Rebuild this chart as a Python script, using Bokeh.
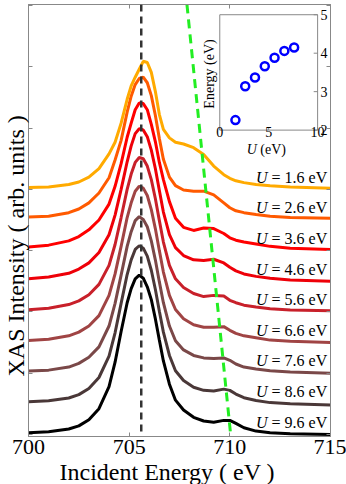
import numpy as np
from math import pi
from bokeh.plotting import figure
from bokeh.models import Range1d, FixedTicker, LinearAxis, Span, Title
from bokeh.embed import file_html
from bokeh.resources import INLINE
from bokeh.core.properties import value

# ---------------- data ----------------
energy = [700, 701, 702, 702.5, 703, 703.5, 704, 704.3, 704.6, 704.9, 705.1, 705.3, 705.5,
          705.7, 705.9, 706.1, 706.3, 706.5, 706.7, 707.0, 707.3, 707.7, 708.2, 708.7, 709.2,
          709.7, 710.0, 710.3, 710.7, 711.3, 712, 713, 715]

xas_u16 = [0.03, 0.04, 0.08, 0.12, 0.20, 0.34, 0.58, 0.77, 1.08, 1.47, 1.69, 1.83, 1.96,
           2.09, 2.07, 1.91, 1.60, 1.22, 0.98, 0.84, 0.77, 0.74, 0.68, 0.57, 0.38,
           0.24, 0.18, 0.14, 0.11, 0.08, 0.06, 0.04, 0.02]
xas_u26 = [0.05, 0.06, 0.12, 0.18, 0.28, 0.44, 0.69, 0.98, 1.30, 1.76, 2.02, 2.21, 2.31,
           2.33, 2.24, 2.03, 1.71, 1.33, 0.99, 0.70, 0.56, 0.49, 0.47, 0.47, 0.41,
           0.28, 0.20, 0.15, 0.12, 0.09, 0.06, 0.04, 0.03]
xas_u36 = [0.06, 0.09, 0.16, 0.23, 0.34, 0.50, 0.76, 1.05, 1.42, 1.85, 2.08, 2.30, 2.41,
           2.40, 2.30, 2.06, 1.78, 1.44, 1.16, 0.80, 0.53, 0.38, 0.33, 0.37, 0.36,
           0.28, 0.21, 0.17, 0.14, 0.11, 0.07, 0.04, 0.02]
xas_u46 = [0.04, 0.07, 0.13, 0.20, 0.30, 0.47, 0.76, 1.08, 1.50, 1.95, 2.21, 2.41, 2.49,
           2.47, 2.36, 2.14, 1.84, 1.48, 1.13, 0.76, 0.55, 0.42, 0.35, 0.34, 0.36,
           0.30, 0.23, 0.17, 0.12, 0.08, 0.05, 0.02, 0.00]
xas_u56 = [0.035, 0.06, 0.12, 0.18, 0.28, 0.45, 0.76, 1.10, 1.54, 2.00, 2.25, 2.44, 2.52,
           2.50, 2.38, 2.16, 1.85, 1.49, 1.14, 0.76, 0.54, 0.40, 0.30, 0.25, 0.27,
           0.26, 0.19, 0.15, 0.11, 0.08, 0.05, 0.03, 0.02]
xas_u66 = [0.035, 0.055, 0.11, 0.17, 0.27, 0.44, 0.77, 1.12, 1.57, 2.04, 2.28, 2.47, 2.55,
           2.52, 2.40, 2.17, 1.86, 1.50, 1.15, 0.77, 0.54, 0.39, 0.29, 0.25, 0.25,
           0.26, 0.20, 0.15, 0.11, 0.08, 0.04, 0.02, 0.00]
xas_u76 = [0.035, 0.05, 0.10, 0.16, 0.26, 0.43, 0.77, 1.14, 1.60, 2.07, 2.31, 2.49, 2.555,
           2.51, 2.39, 2.16, 1.85, 1.49, 1.15, 0.77, 0.53, 0.38, 0.29, 0.25, 0.24,
           0.25, 0.21, 0.15, 0.10, 0.07, 0.04, 0.02, 0.00]
xas_u86 = [0.033, 0.05, 0.095, 0.15, 0.25, 0.43, 0.78, 1.16, 1.64, 2.11, 2.35, 2.52, 2.58,
           2.54, 2.41, 2.18, 1.87, 1.51, 1.17, 0.79, 0.54, 0.38, 0.27, 0.22, 0.21,
           0.24, 0.22, 0.16, 0.10, 0.055, 0.02, 0.00, -0.017]
xas_u96 = [0.03, 0.045, 0.09, 0.14, 0.24, 0.42, 0.78, 1.18, 1.68, 2.15, 2.38, 2.54, 2.60,
           2.55, 2.41, 2.20, 1.89, 1.54, 1.20, 0.82, 0.56, 0.40, 0.28, 0.22, 0.20,
           0.23, 0.23, 0.18, 0.11, 0.055, 0.03, 0.01, 0.00]

curves = [xas_u16, xas_u26, xas_u36, xas_u46, xas_u56, xas_u66, xas_u76, xas_u86, xas_u96]
u_labels = ["1.6", "2.6", "3.6", "4.6", "5.6", "6.6", "7.6", "8.6", "9.6"]
offsets = [4.0, 3.5, 3.0, 2.5, 2.0, 1.5, 1.0, 0.5, 0.0]
colors = ["#FFAA00", "#FF5A00", "#FF0000", "#EE0008", "#C8202A", "#A04444", "#7A4848", "#4A3838", "#000000"]

main_peak_energy = 705.6
sat_line_energy = [707.87, 710.05]

x_ticks = [700, 705, 710, 715]
y_ticks = [0, 1, 2, 3, 4, 5, 6, 7]

inset_u = [1.6, 2.6, 3.6, 4.6, 5.6, 6.6, 7.6]
inset_energy = [2.26, 3.14, 3.37, 3.66, 3.88, 4.06, 4.15]
inset_x_ticks = [0, 5, 10]
inset_y_ticks = [2, 3, 4, 5]

SERIF = value("Liberation Serif")

# ---------------- main figure ----------------
y0, y1 = -0.033, 7.017
p = figure(width=346, height=484, x_range=Range1d(700, 715), y_range=Range1d(y0, y1),
           output_backend="svg", toolbar_location=None,
           min_border_left=0, min_border_right=16, min_border_top=4, min_border_bottom=0)
p.grid.visible = False
p.outline_line_color = "#888888"
p.background_fill_color = "white"
p.border_fill_color = "white"

def style_axis(ax, ticks, labels=True):
    ax.ticker = FixedTicker(ticks=ticks)
    ax.major_tick_in = 4
    ax.major_tick_out = 0
    ax.minor_tick_line_color = None
    ax.axis_line_color = "#888888"
    ax.major_tick_line_color = "#888888"
    if labels:
        ax.major_label_text_font = "Liberation Serif"
        ax.major_label_text_font_size = "22px"
        ax.major_label_text_color = "black"
        ax.major_label_standoff = 3
    else:
        ax.major_label_text_font_size = "0px"
        ax.major_label_text_color = None
        ax.major_label_standoff = 0

xax = p.xaxis[0]
yax = p.yaxis[0]
style_axis(xax, x_ticks, True)
style_axis(yax, y_ticks, False)
top_ax = LinearAxis()
style_axis(top_ax, x_ticks, False)
p.add_layout(top_ax, "above")
right_ax = LinearAxis()
style_axis(right_ax, y_ticks, False)
p.add_layout(right_ax, "right")

# axis titles (placed as titles so they can sit off-centre like the original)
p.add_layout(Title(text="Incident Energy ( eV )", align="left", offset=31, standoff=0,
                   text_font="Liberation Serif", text_font_size="24px",
                   text_font_style="normal", text_color="black"), "below")
p.add_layout(Title(text="XAS Intensity ( arb. units )", align="left", offset=60, standoff=0,
                   text_font="Liberation Serif", text_font_size="24px",
                   text_font_style="normal", text_color="black"), "left")

# curves (bottom first)
e = np.array(energy)
for vals, off, col in reversed(list(zip(curves, offsets, colors))):
    p.line(e, np.array(vals) + off, line_color=col, line_width=3)

# labels U = x eV
lab_x = 711.3
p.text(x=[lab_x] * 9, y=[o + 0.2 for o in offsets], text=["U"] * 9,
       text_font=SERIF, text_font_style="italic", text_font_size="16px",
       text_align="left", text_baseline="middle", text_color="black")
p.text(x=[lab_x] * 9, y=[o + 0.2 for o in offsets], text=["= " + u + " eV" for u in u_labels],
       text_font=SERIF, text_font_size="16px", x_offset=15.5,
       text_align="left", text_baseline="middle", text_color="black")

# reference lines
p.add_layout(Span(location=main_peak_energy, dimension="height", line_color="#333333",
                  line_width=2.5, line_dash="7 5"))
p.line(sat_line_energy, [y1, y0], line_color="#22EE22", line_width=3, line_dash="9 6")

# ---------------- inset ----------------
sub = p.subplot(x_source=Range1d(0, 10), y_source=Range1d(2, 5),
                x_target=Range1d(709.5, 714.36), y_target=Range1d(4.967, 6.85))
sub.quad(left=[0], right=[10], bottom=[2], top=[5], fill_color="white", line_color="#888888", line_width=1)
sub.segment(x0=inset_x_ticks, y0=[2] * 3, x1=inset_x_ticks, y1=[2.08] * 3, line_color="#888888")
sub.segment(x0=[10] * 4, y0=inset_y_ticks, x1=[9.6] * 4, y1=inset_y_ticks, line_color="#888888")
sub.scatter(inset_u, inset_energy, marker="circle", size=8, line_color="#0000FF",
            fill_color="white", line_width=2.5)
sub.text(x=inset_x_ticks, y=[2] * 3, text=[str(t) for t in inset_x_ticks], text_font=SERIF,
         text_font_size="14px", text_align="center", text_baseline="top", y_offset=-3)
sub.text(x=[10] * 4, y=inset_y_ticks, text=[str(t) for t in inset_y_ticks], text_font=SERIF,
         text_font_size="14px", text_align="left", text_baseline="middle", x_offset=3)
sub.text(x=[2.76], y=[2], text=["U"], text_font=SERIF, text_font_style="italic",
         text_font_size="14px", text_align="left", text_baseline="middle", y_offset=19)
sub.text(x=[2.76], y=[2], text=["(eV)"], text_font=SERIF,
         text_font_size="14px", text_align="left", text_baseline="middle", y_offset=19, x_offset=13.5)
sub.text(x=[-1.0], y=[3.46], text=["Energy (eV)"], angle=pi / 2, text_font=SERIF,
         text_font_size="14px", text_align="center", text_baseline="middle")

open("out.html", "w").write(file_html(p, INLINE))
